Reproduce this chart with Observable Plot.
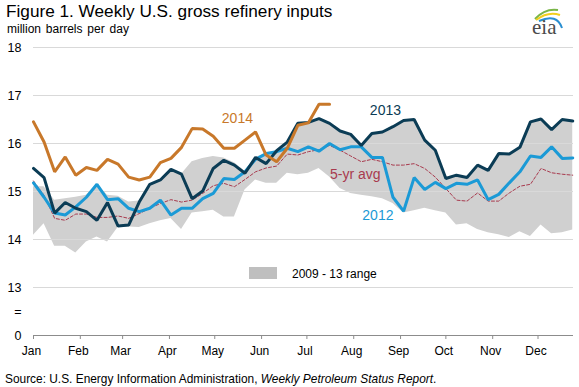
<!DOCTYPE html>
<html><head><meta charset="utf-8">
<script src="https://cdn.jsdelivr.net/npm/d3@7"></script>
<script src="https://cdn.jsdelivr.net/npm/@observablehq/plot@0.6"></script>
<style>
body{margin:0;background:#fff;font-family:Arial,"Liberation Sans",sans-serif;}
#wrap{position:relative;width:579px;height:387px;overflow:hidden;background:#fff}
#overlay{position:absolute;left:0;top:0;pointer-events:none}
</style></head><body>
<div id="wrap"></div>
<script>
// Weekly U.S. gross refinery inputs, million barrels per day (week index 0..51 from Jan 1)
const months = ["Jan","Feb","Mar","Apr","May","Jun","Jul","Aug","Sep","Oct","Nov","Dec"];
const yTicks = [12, 12.5, 13, 14, 15, 16, 17, 18];
const yTickLabels = ["0", "=", "13", "14", "15", "16", "17", "18"];
const gridValues = [13, 14, 15, 16, 17, 18];

const y2014 = [16.45,16.03,15.41,15.72,15.34,15.50,15.44,15.67,15.57,15.30,
               15.24,15.30,15.60,15.69,15.92,16.31,16.30,16.15,15.90,15.90,
               16.07,16.24,15.76,15.62,15.90,16.38,16.43,16.82,16.82];
const y2013 = [15.48,15.29,14.55,14.77,14.65,14.58,14.40,14.77,14.28,14.30,
               14.78,15.15,15.24,15.46,15.36,14.85,15.01,15.48,15.65,15.55,
               15.38,15.71,15.58,15.85,16.03,16.42,16.44,16.52,16.42,16.26,
               16.19,15.96,16.21,16.24,16.35,16.48,16.50,16.07,15.86,15.27,
               15.34,15.29,15.55,15.44,15.79,15.78,15.92,16.45,16.51,16.29,
               16.50,16.47];
const y2012 = [15.18,14.88,14.55,14.51,14.68,14.88,15.15,14.83,14.85,14.65,
               14.58,14.65,14.82,14.51,14.65,14.65,14.85,14.96,15.27,15.25,
               15.41,15.67,15.79,15.83,15.90,15.83,15.93,15.84,16.00,15.87,
               15.93,15.93,15.71,15.71,14.88,14.59,15.29,15.04,15.19,15.06,
               15.17,15.15,15.24,14.83,14.94,15.18,15.41,15.74,15.71,15.93,
               15.69,15.70];
const avg5 = [15.22,14.92,14.44,14.40,14.53,14.53,14.46,14.46,14.49,14.44,
              14.54,14.65,14.75,14.83,14.78,14.82,14.96,15.12,15.17,15.10,
              15.25,15.41,15.49,15.53,15.78,15.76,15.83,15.87,15.96,15.86,
              15.74,15.62,15.67,15.62,15.55,15.55,15.58,15.48,15.30,15.06,
              14.82,14.80,14.97,14.80,14.80,14.97,15.11,15.15,15.48,15.39,
              15.36,15.34];
const rangeLow = [14.09,14.33,13.86,13.86,13.72,13.95,14.05,13.95,14.25,14.26,
                  14.25,14.33,14.39,14.44,14.21,14.55,14.58,14.61,14.47,14.47,
                  15.03,15.24,15.17,15.17,15.38,15.35,15.38,15.48,15.30,15.06,
                  14.96,14.92,14.89,14.85,14.75,14.55,14.60,14.65,14.60,14.55,
                  14.30,14.33,14.21,14.14,14.10,14.04,14.16,14.06,14.30,14.12,
                  14.14,14.20];
const rangeHigh = [15.10,15.10,14.82,14.85,14.88,14.92,15.15,14.92,14.90,14.78,
                   14.80,15.15,15.24,15.46,15.36,15.62,15.69,15.73,15.70,15.60,
                   15.42,15.71,15.79,15.85,16.03,16.42,16.44,16.52,16.42,16.26,
                   16.19,15.96,16.21,16.24,16.35,16.48,16.50,16.07,15.86,15.30,
                   15.34,15.29,15.55,15.44,15.79,15.78,15.92,16.45,16.51,16.29,
                   16.50,16.47];
// series labels: [text, day of year, value]
const seriesLabels = [
  {text:"2014", day:135, value:16.53, color:"#c8782a"},
  {text:"2013", day:233, value:16.69, color:"#0b3c55"},
  {text:"5-yr avg", day:213, value:15.36, color:"#a83a4e"},
  {text:"2012", day:228, value:14.49, color:"#1b9ad6"}
];

const DAY = 864e5;
const start = Date.UTC(2014, 0, 1);
const weekDate = i => new Date(start + i * 7 * DAY);
const band = rangeLow.map((lo, i) => ({date: weekDate(i), lo, hi: rangeHigh[i]}));
const series = (arr) => arr.map((v, i) => ({date: weekDate(i), v}));
const monthTicks = months.map((m, i) => new Date(Date.UTC(2014, i, 1)));
const labelRows = seriesLabels.map(d => ({...d, date: new Date(start + d.day * DAY)}));

const chart = Plot.plot({
  width: 579, height: 387,
  marginTop: 47, marginBottom: 52, marginLeft: 33, marginRight: 6,
  style: {fontFamily: "Arial, 'Liberation Sans', sans-serif", fontSize: "12px", color: "#000", background: "transparent"},
  x: {type: "utc", domain: [new Date(start), new Date(start + 357.5 * DAY)]},
  y: {domain: [12, 18]},
  marks: [
    Plot.areaY(band, {x: "date", y1: "lo", y2: "hi", fill: "#d0d0d0"}),
    Plot.ruleY(gridValues, {stroke: "#d9d9d9", strokeWidth: 1}),
    Plot.ruleY([12], {stroke: "#8c8c8c", strokeWidth: 1}),
    Plot.axisY({ticks: yTicks, tickSize: 0, tickPadding: 12, fontSize: 12.5, fill: "#000",
      tickFormat: d => yTickLabels[yTicks.indexOf(d)], label: null}),
    Plot.axisX({ticks: monthTicks, tickSize: 4, tickFormat: () => "", stroke: "#8c8c8c", label: null}),
    Plot.axisX({ticks: monthTicks, tickSize: 0, tickPadding: 11, fontSize: 12, fill: "#000", dx: -2,
      tickFormat: d => months[d.getUTCMonth()], label: null}),
    Plot.line(series(avg5), {x: "date", y: "v", stroke: "#a83a4e", strokeWidth: 1, strokeDasharray: "3,2"}),
    Plot.line(series(y2012), {x: "date", y: "v", stroke: "#1b9ad6", strokeWidth: 3, strokeLinejoin: "miter"}),
    Plot.line(series(y2013), {x: "date", y: "v", stroke: "#0b3c55", strokeWidth: 3, strokeLinejoin: "miter"}),
    Plot.line(series(y2014), {x: "date", y: "v", stroke: "#c8782a", strokeWidth: 3, strokeLinejoin: "miter"}),
    Plot.text(labelRows, {x: "date", y: "value", text: "text", fill: d => d.color, fontSize: 14})
  ]
});
const wrap = document.getElementById("wrap");
wrap.appendChild(chart);

const overlay = `
<svg id="overlay" width="579" height="387" xmlns="http://www.w3.org/2000/svg" font-family="Arial, 'Liberation Sans', sans-serif">
  <text x="6" y="17" font-size="17.2" fill="#000">Figure 1. Weekly U.S. gross refinery inputs</text>
  <text x="7" y="33" font-size="12" word-spacing="1.5" fill="#000">million barrels per day</text>
  <rect x="249" y="267" width="28" height="12" fill="#bfbfbf"></rect>
  <text x="292" y="278" font-size="12" fill="#000">2009 - 13 range</text>
  <text x="5" y="383" font-size="11.9" fill="#000">Source: U.S. Energy Information Administration, <tspan font-style="italic">Weekly Petroleum Status Report</tspan>.</text>
  <path d="M535,19 Q545,8 558,10" fill="none" stroke="#7ab648" stroke-width="2"></path>
  <path d="M536,20 Q548,11 560,15" fill="none" stroke="#f2cf1d" stroke-width="2"></path>
  <path d="M539,21 Q557,13 562,28" fill="none" stroke="#2a8fd1" stroke-width="2"></path>
  <text x="532" y="34" font-size="21" font-family="'Liberation Serif', 'DejaVu Serif', serif" fill="#4a4a4a">eia</text>
</svg>`;
wrap.insertAdjacentHTML("beforeend", overlay);
</script>
</body></html>
